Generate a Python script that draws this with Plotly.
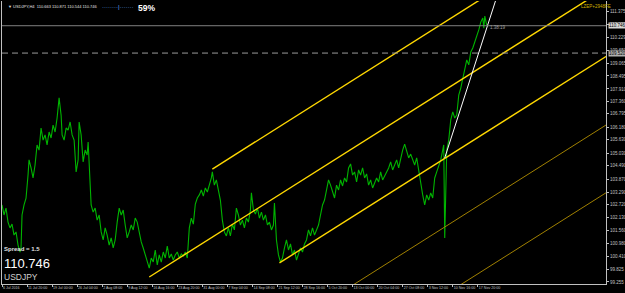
import plotly.graph_objects as go

# ---- data ----
bars = [0,2,4,6,8,10,12,14,16,18,19,20,22,24,26,27,29,31,33,35,37,39,41,43,45,47,49,51,53,55,57,59,60,62,64,66,68,70,72,74,76,77,79,81,83,85,86,88,89,91,93,95,97,99,101,103,105,107,109,111,113,115,117,119,121,123,125,127,129,131,133,135,137,139,141,143,145,147,149,151,153,155,157,159,161,163,165,167,169,171,173,175,177,179,181,183,185,186,187,189,191,193,195,197,199,201,203,205,207,209,210,212,214,216,218,220,222,224,226,228,230,232,234,236,238,240,242,244,246,248,249,251,253,255,257,259,261,263,265,267,269,271,272,274,276,278,280,282,284,286,288,290,292,294,296,298,300,302,304,306,308,310,312,314,316,318,320,322,324,326,328,330,332,334,336,338,340,342,344,346,348,350,352,354,356,358,360,362,364,366,368,370,372,374,376,378,380,382,384,386,388,390,392,394,396,398,400,402,404,406,408,410,412,414,416,418,420,422,424,426,428,430,432,434,436,438,440,441,442,443,444,446,448,450,452,454,456,458,460,462,464,466,468,470,472,474,476,478,480,481,482,484]
close = [102.71,102.26,102.57,101.94,101.68,101.85,101.36,101.50,100.91,100.60,100.78,102.26,102.71,103.02,104.05,104.73,104.37,103.92,104.50,105.40,105.17,106.16,105.62,105.85,105.40,105.98,105.71,106.29,105.98,106.61,107.51,106.74,105.85,105.62,106.16,106.07,106.43,105.85,105.62,104.19,104.73,106.43,105.85,104.64,105.17,104.95,105.53,103.74,102.71,102.39,102.57,102.03,102.26,101.50,101.14,101.68,101.36,100.91,101.23,100.78,101.14,101.94,102.57,102.26,102.48,101.81,101.23,101.50,101.81,101.59,102.12,101.94,101.50,101.05,100.78,100.47,100.15,99.88,100.33,100.15,100.69,100.02,100.47,100.15,100.60,100.33,100.87,100.33,100.51,100.24,100.47,100.60,100.33,100.51,100.42,100.60,100.33,100.91,101.68,102.12,101.85,102.75,103.02,103.16,103.38,103.11,103.47,103.29,103.60,103.92,104.19,103.60,103.83,103.29,102.93,102.03,101.50,101.32,101.68,101.32,101.85,101.59,102.57,102.26,101.81,102.03,101.68,102.12,101.94,102.48,103.25,102.48,102.30,102.57,102.12,102.39,102.03,102.26,101.81,101.94,101.59,101.81,102.80,101.14,100.47,100.15,100.33,100.78,101.14,100.69,100.96,100.47,100.69,100.24,100.47,100.78,100.60,100.96,101.14,101.59,101.32,101.68,101.36,101.59,101.81,102.26,102.71,102.93,103.47,103.83,103.60,103.29,103.02,103.60,103.38,103.83,103.56,103.92,103.74,104.37,104.55,104.05,104.19,103.74,104.28,104.05,104.37,103.92,104.10,103.60,103.83,103.47,103.74,103.92,103.74,104.19,103.83,104.01,104.19,104.37,104.64,104.28,104.50,104.73,104.37,104.82,105.17,105.44,105.08,104.82,104.99,104.73,104.50,104.82,104.19,103.60,103.16,102.71,103.16,102.93,103.25,103.02,103.92,104.19,104.46,104.73,105.17,105.40,101.23,103.83,105.17,105.62,106.52,106.88,106.61,106.74,107.64,107.95,108.40,108.85,109.21,108.99,109.57,109.75,110.02,110.20,110.56,110.91,111.09,110.64,111.18,110.746]
close = close[:len(bars)]

x_ticks = [0,25,50,75,100,125,150,175,200,225,250,275,300,325,350,375,400,425,450,475]
x_labels = ["6 Jul 2016","11 Jul 20:00","19 Jul 00:00","26 Jul 04:00","2 Aug 08:00","9 Aug 12:00",
            "16 Aug 16:00","23 Aug 20:00","31 Aug 00:00","7 Sep 04:00","14 Sep 08:00","21 Sep 12:00",
            "28 Sep 16:00","5 Oct 20:00","13 Oct 00:00","20 Oct 04:00","27 Oct 08:00","3 Nov 12:00",
            "10 Nov 16:00","17 Nov 20:00"]
y_ticks = [111.375,110.805,110.229,109.650,109.065,108.495,107.910,107.360,106.795,106.180,105.630,
           105.030,104.490,103.870,103.290,102.720,102.130,101.560,100.980,100.410,99.825,99.255]

# channel anchors (bar, price) and common slope (price per bar)
slope = 0.0284
chan_main = [(210, 104.32), (147, 99.48), (277, 100.11)]   # bright yellow
chan_ext = [(352, 99.165), (459, 99.165)]                   # dark yellow
white_trend = [(442, 104.82), (492, 111.765)]
bid = 110.746
dash_level = 109.52

fig = go.Figure()

fig.add_trace(go.Scatter(x=bars, y=close, mode="lines",
                         line=dict(color="#00b400", width=1.1), hoverinfo="skip"))

end_bar = 640
for b0, p0 in chan_main:
    fig.add_trace(go.Scatter(x=[b0, end_bar], y=[p0, p0 + slope * (end_bar - b0)], mode="lines",
                             line=dict(color="#ffd800", width=1.4), hoverinfo="skip"))
for b0, p0 in chan_ext:
    fig.add_trace(go.Scatter(x=[b0 - 60, end_bar], y=[p0 - slope * 60, p0 + slope * (end_bar - b0)],
                             mode="lines", line=dict(color="#a08000", width=1), hoverinfo="skip"))
(wb0, wp0), (wb1, wp1) = white_trend
fig.add_trace(go.Scatter(x=[wb0, wb1 + 5], y=[wp0, wp1 + (wp1 - wp0) / (wb1 - wb0) * 5], mode="lines",
                         line=dict(color="#ffffff", width=1), hoverinfo="skip"))

fig.add_hline(y=bid, line=dict(color="#808080", width=1))
fig.add_hline(y=dash_level, line=dict(color="#9a9a9a", width=1, dash="6px,4px"))

font = "Liberation Sans, Arial, sans-serif"
ann = [
    dict(x=0.006, y=0.998, xref="paper", yref="paper", text="▼ USDJPY,H4  110.663 110.871 110.544 110.746",
         font=dict(size=4, color="#e0e0e0"), xanchor="left", yanchor="top"),
    dict(x=0.162, y=0.998, xref="paper", yref="paper", text="········|·······",
         font=dict(size=6, color="#6aa8ff"), xanchor="left", yanchor="top"),
    dict(x=0.222, y=1.0, xref="paper", yref="paper", text="<b>59%</b>",
         font=dict(size=8.5, color="#ffffff"), xanchor="left", yanchor="top"),
    dict(x=0.955, y=0.998, xref="paper", yref="paper", text="LZEP+2948FE",
         font=dict(size=4.5, color="#d0b000"), xanchor="left", yanchor="top"),
    dict(x=485, y=110.65, text="1.38:19", font=dict(size=4.5, color="#a0a0a0"),
         xanchor="left", yanchor="middle"),
    dict(x=0.0, y=0.124, xref="paper", yref="paper", text="<b>Spread = 1.5</b>",
         font=dict(size=6, color="#e0e0e0"), xanchor="left", yanchor="middle"),
    dict(x=0.0, y=0.074, xref="paper", yref="paper", text="110.746",
         font=dict(size=13, color="#ffffff"), xanchor="left", yanchor="middle"),
    dict(x=0.0, y=0.025, xref="paper", yref="paper", text="USDJPY",
         font=dict(size=8.5, color="#d0d0d0"), xanchor="left", yanchor="middle"),
    dict(x=1.003, y=bid, xref="paper", yref="y", text="110.746", bgcolor="#d8d8d8",
         font=dict(size=4.5, color="#000000"), xanchor="left", yanchor="middle", borderpad=0),
    dict(x=1.003, y=dash_level, xref="paper", yref="y", text="109.520", bgcolor="#b0b0b0",
         font=dict(size=4.5, color="#000000"), xanchor="left", yanchor="middle", borderpad=0),
]
for a in ann:
    a["showarrow"] = False

fig.update_layout(
    width=625, height=293, showlegend=False,
    paper_bgcolor="#000000", plot_bgcolor="#000000",
    margin=dict(l=2, r=19, t=1, b=9, autoexpand=False),
    font=dict(family=font, color="#c0c0c0"),
    annotations=ann,
    xaxis=dict(range=[0, 603], showgrid=False, zeroline=False, showline=True, linecolor="#c0c0c0",
               linewidth=1, ticks="outside", ticklen=2, tickcolor="#c0c0c0", tickangle=0,
               automargin=False,
               tickvals=x_ticks, ticktext=x_labels, ticklabelposition="outside right",
               tickfont=dict(size=3.6, color="#c0c0c0", family=font)),
    yaxis=dict(range=[99.165, 111.855], side="right", showgrid=False, zeroline=False, showline=True,
               linecolor="#c0c0c0", linewidth=1, mirror=True, ticks="outside", ticklen=2,
               automargin=False,
               tickcolor="#c0c0c0", tickvals=y_ticks, ticktext=[f"{v:.3f}" for v in y_ticks],
               tickfont=dict(size=4.5, color="#c0c0c0", family=font)),
)

fig.write_html("out.html")
